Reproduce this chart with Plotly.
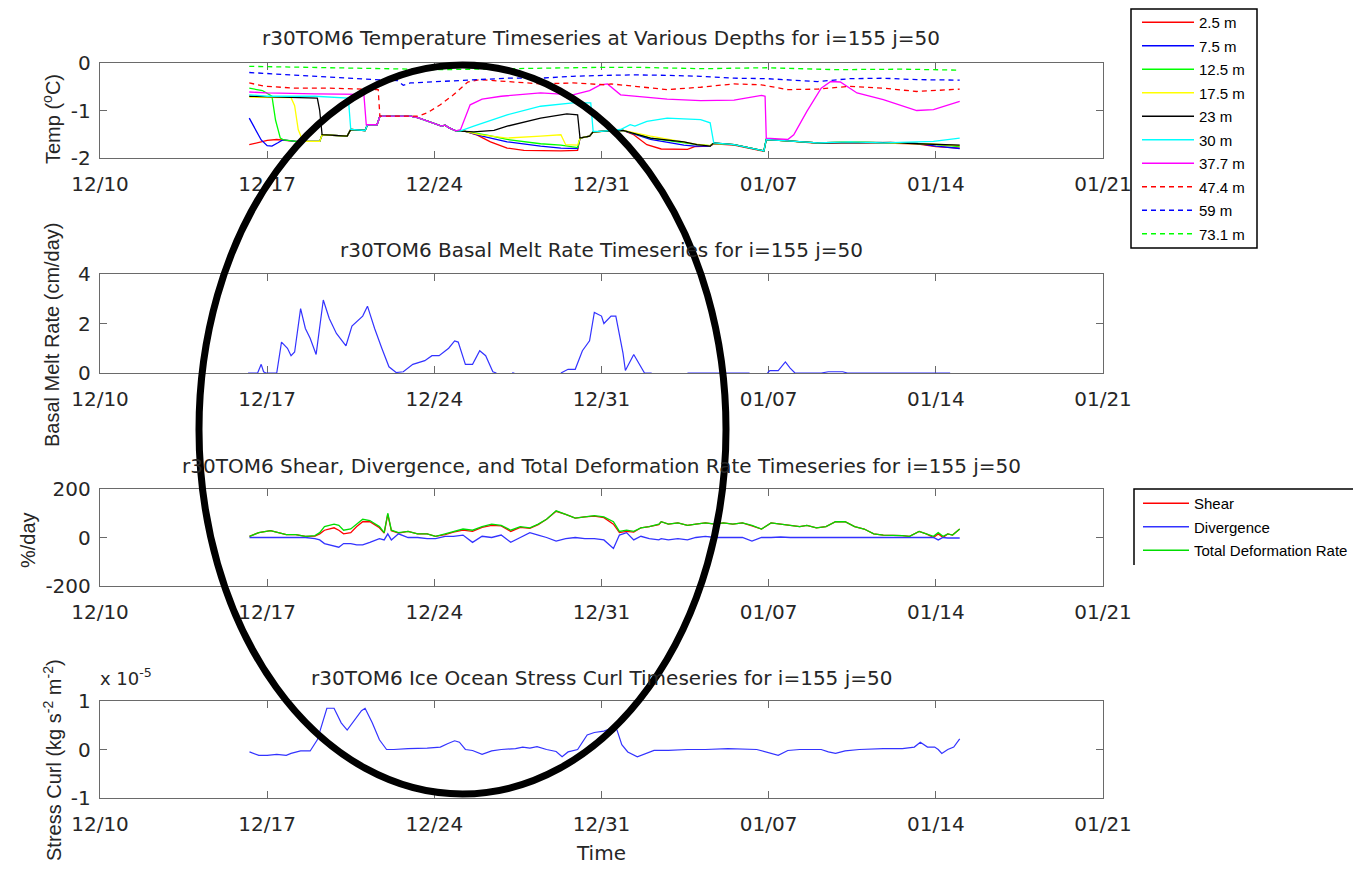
import pandas as pd
import plotly.graph_objects as go

# ---------------- data (days since 12/10) ----------------
BASE = pd.Timestamp("2015-12-10")

tick_days = [0, 7, 14, 21, 28, 35, 42]
tick_labels = ["12/10", "12/17", "12/24", "12/31", "01/07", "01/14", "01/21"]

depth_names = ["2.5 m", "7.5 m", "12.5 m", "17.5 m", "23 m", "30 m", "37.7 m", "47.4 m", "59 m", "73.1 m"]

t2_5_days = [6.25, 6.6, 7.0, 7.4, 7.7, 8.2, 9.2, 9.3, 10.35, 10.5, 11.1, 11.2, 11.6, 11.72, 13.0, 13.3, 13.6, 14.0, 14.3, 14.45, 14.6, 14.9, 15.3, 15.8, 16.35, 17.05, 17.75, 19.3, 20.0, 20.1, 20.5, 20.65, 21.0, 21.9, 22.35, 22.9, 23.5, 24.6, 24.9, 25.55, 25.7, 26.55, 27.8, 27.9, 28.8, 30.05, 31.4, 32.8, 34.2, 35.0, 36.0]
t2_5_vals = [-1.72, -1.68, -1.63, -1.61, -1.62, -1.65, -1.65, -1.51, -1.54, -1.4, -1.42, -1.3, -1.3, -1.12, -1.12, -1.15, -1.2, -1.27, -1.33, -1.31, -1.36, -1.43, -1.44, -1.52, -1.66, -1.79, -1.84, -1.85, -1.84, -1.58, -1.54, -1.45, -1.44, -1.42, -1.51, -1.72, -1.81, -1.82, -1.76, -1.75, -1.7, -1.73, -1.86, -1.61, -1.64, -1.69, -1.67, -1.69, -1.7, -1.76, -1.79]

t7_5_days = [6.25, 6.5, 6.75, 7.0, 7.2, 7.45, 7.65, 8.2, 9.2, 9.3, 10.35, 10.5, 11.1, 11.2, 11.6, 11.72, 13.0, 13.3, 13.6, 14.0, 14.3, 14.45, 14.6, 14.9, 15.3, 16.0, 17.05, 18.45, 19.3, 20.0, 20.1, 20.5, 20.65, 21.0, 21.9, 23.05, 24.45, 24.9, 25.55, 25.7, 26.55, 27.8, 27.9, 28.8, 30.05, 31.4, 32.8, 34.2, 35.0, 36.0]
t7_5_vals = [-1.16, -1.4, -1.62, -1.74, -1.75, -1.68, -1.62, -1.65, -1.65, -1.51, -1.54, -1.4, -1.42, -1.3, -1.3, -1.12, -1.12, -1.15, -1.2, -1.27, -1.33, -1.31, -1.36, -1.43, -1.44, -1.54, -1.66, -1.75, -1.79, -1.8, -1.58, -1.54, -1.45, -1.44, -1.42, -1.61, -1.73, -1.75, -1.75, -1.69, -1.72, -1.85, -1.61, -1.64, -1.68, -1.66, -1.68, -1.69, -1.75, -1.8]

t12_5_days = [6.25, 6.8, 7.2, 7.35, 7.55, 7.7, 8.2, 9.2, 9.3, 10.35, 10.5, 11.1, 11.2, 11.6, 11.72, 13.0, 13.3, 13.6, 14.0, 14.3, 14.45, 14.6, 14.9, 15.3, 16.2, 17.05, 18.45, 19.3, 20.0, 20.1, 20.5, 20.65, 21.0, 21.9, 23.05, 24.45, 25.0, 25.55, 25.7, 26.55, 27.8, 27.9, 28.8, 30.05, 31.4, 32.8, 34.2, 35.0, 36.0]
t12_5_vals = [-0.53, -0.58, -0.7, -1.2, -1.58, -1.62, -1.65, -1.65, -1.51, -1.54, -1.4, -1.42, -1.3, -1.3, -1.12, -1.12, -1.15, -1.2, -1.27, -1.33, -1.31, -1.36, -1.43, -1.44, -1.52, -1.61, -1.7, -1.73, -1.78, -1.58, -1.54, -1.45, -1.44, -1.42, -1.58, -1.68, -1.72, -1.74, -1.69, -1.72, -1.85, -1.61, -1.64, -1.68, -1.66, -1.68, -1.69, -1.72, -1.76]

t17_5_days = [6.25, 8.0, 8.15, 8.3, 8.5, 9.2, 9.3, 10.35, 10.5, 11.1, 11.2, 11.6, 11.72, 13.0, 13.3, 13.6, 14.0, 14.3, 14.45, 14.6, 14.9, 15.3, 15.9, 17.05, 18.45, 19.3, 19.5, 20.0, 20.1, 20.5, 20.65, 21.0, 21.9, 23.05, 24.45, 24.95, 25.55, 25.7, 26.55, 27.8, 27.9, 28.8, 30.05, 31.4, 32.8, 34.2, 35.0, 36.0]
t17_5_vals = [-0.72, -0.73, -0.9, -1.4, -1.65, -1.65, -1.51, -1.54, -1.4, -1.42, -1.3, -1.3, -1.12, -1.12, -1.15, -1.2, -1.27, -1.33, -1.31, -1.36, -1.43, -1.44, -1.51, -1.58, -1.54, -1.51, -1.72, -1.73, -1.58, -1.54, -1.45, -1.44, -1.42, -1.54, -1.66, -1.71, -1.74, -1.69, -1.72, -1.85, -1.61, -1.64, -1.68, -1.66, -1.68, -1.69, -1.71, -1.74]

t23_days = [6.25, 8.0, 9.1, 9.2, 9.3, 10.35, 10.5, 11.1, 11.2, 11.6, 11.72, 13.0, 13.3, 13.6, 14.0, 14.3, 14.45, 14.6, 14.9, 15.3, 15.65, 16.5, 17.05, 18.45, 19.55, 20.0, 20.1, 20.5, 20.65, 21.0, 21.9, 23.05, 24.45, 25.0, 25.55, 25.7, 26.55, 27.8, 27.9, 28.8, 30.05, 31.85, 33.1, 34.2, 35.0, 36.0]
t23_vals = [-0.7, -0.72, -0.74, -1.0, -1.51, -1.54, -1.4, -1.42, -1.3, -1.3, -1.12, -1.12, -1.15, -1.2, -1.27, -1.33, -1.31, -1.36, -1.43, -1.44, -1.45, -1.42, -1.33, -1.16, -1.07, -1.09, -1.58, -1.54, -1.45, -1.44, -1.42, -1.58, -1.66, -1.72, -1.75, -1.68, -1.72, -1.85, -1.61, -1.64, -1.68, -1.68, -1.67, -1.7, -1.71, -1.73]

t30_days = [6.25, 7.0, 9.0, 10.4, 10.5, 11.1, 11.2, 11.6, 11.72, 13.0, 13.3, 13.6, 14.0, 14.3, 14.45, 14.6, 14.9, 15.1, 15.65, 17.05, 18.45, 19.8, 20.55, 20.65, 21.0, 21.8, 22.2, 22.4, 22.9, 23.75, 25.15, 25.55, 25.7, 26.55, 27.8, 27.9, 28.8, 30.05, 31.4, 32.8, 34.2, 34.9, 36.0]
t30_vals = [-0.67, -0.7, -0.7, -0.74, -1.4, -1.42, -1.3, -1.3, -1.12, -1.12, -1.15, -1.2, -1.27, -1.33, -1.31, -1.36, -1.43, -1.43, -1.33, -1.09, -0.91, -0.84, -0.84, -1.44, -1.44, -1.4, -1.3, -1.33, -1.23, -1.16, -1.19, -1.26, -1.68, -1.72, -1.85, -1.61, -1.64, -1.68, -1.66, -1.68, -1.66, -1.65, -1.58]

t37_7_days = [6.25, 7.0, 9.0, 11.05, 11.15, 11.6, 11.72, 13.0, 13.3, 13.6, 14.0, 14.3, 14.45, 14.6, 14.9, 15.1, 15.5, 16.0, 16.8, 18.45, 19.8, 20.5, 20.95, 21.25, 21.8, 23.75, 25.15, 26.55, 27.7, 27.85, 27.9, 28.8, 29.05, 29.6, 30.2, 30.6, 31.0, 31.7, 32.8, 34.2, 34.9, 36.0]
t37_7_vals = [-0.61, -0.63, -0.65, -0.66, -1.3, -1.3, -1.12, -1.12, -1.15, -1.2, -1.27, -1.33, -1.31, -1.36, -1.43, -1.4, -0.88, -0.76, -0.7, -0.63, -0.67, -0.58, -0.46, -0.44, -0.67, -0.76, -0.79, -0.78, -0.68, -0.7, -1.58, -1.61, -1.51, -1.02, -0.53, -0.39, -0.4, -0.63, -0.77, -1.0, -0.98, -0.81]

t47_4_days = [6.25, 6.9, 8.2, 9.6, 11.0, 11.65, 11.72, 13.3, 13.7, 14.25, 14.8, 15.4, 15.9, 17.05, 18.45, 19.8, 21.2, 21.4, 22.35, 23.75, 25.15, 26.55, 27.7, 28.8, 30.05, 31.4, 32.8, 34.2, 36.0]
t47_4_vals = [-0.42, -0.49, -0.53, -0.53, -0.55, -0.56, -1.12, -1.12, -1.05, -0.88, -0.67, -0.4, -0.35, -0.39, -0.44, -0.42, -0.46, -0.44, -0.49, -0.56, -0.51, -0.44, -0.46, -0.56, -0.55, -0.49, -0.53, -0.6, -0.55]

t59_days = [6.25, 7.3, 8.7, 10.1, 11.5, 12.45, 12.7, 13.0, 14.25, 15.65, 17.05, 18.45, 19.8, 21.2, 22.35, 23.75, 25.15, 26.55, 27.95, 30.05, 31.4, 32.8, 34.2, 36.0]
t59_vals = [-0.2, -0.23, -0.28, -0.32, -0.35, -0.37, -0.47, -0.42, -0.39, -0.35, -0.32, -0.32, -0.28, -0.26, -0.25, -0.26, -0.28, -0.32, -0.33, -0.39, -0.33, -0.32, -0.35, -0.36]

t73_1_days = [6.25, 8.7, 11.5, 14.3, 17.1, 19.8, 21.2, 22.4, 25.2, 27.95, 30.8, 33.6, 36.0]
t73_1_vals = [-0.07, -0.09, -0.12, -0.14, -0.12, -0.09, -0.09, -0.09, -0.12, -0.1, -0.14, -0.13, -0.15]

melt_days = [6.2, 6.6, 6.75, 6.85, 6.95, 7.4, 7.6, 7.85, 8.0, 8.15, 8.4, 8.6, 8.8, 9.05, 9.35, 9.6, 9.9, 10.3, 10.55, 10.9, 11.0, 11.2, 11.5, 11.8, 12.1, 12.4, 12.7, 13.1, 13.6, 13.9, 14.2, 14.6, 14.85, 15.0, 15.3, 15.6, 15.9, 16.15, 16.45, 16.6, 16.7, 17.25, 17.35, 17.4, 19.3, 19.6, 19.9, 20.2, 20.5, 20.7, 21.0, 21.1, 21.4, 21.6, 21.9, 22.0, 22.35, 22.6, 22.8, 23.1, 23.2, 24.6, 27.2, 27.3, 27.95, 28.05, 28.4, 28.7, 28.9, 29.1, 30.2, 30.5, 31.1, 31.3, 35.6]
melt_vals = [0, 0, 0.35, 0.05, 0, 0, 1.25, 1.0, 0.7, 0.85, 2.6, 1.8, 1.4, 0.75, 2.95, 2.2, 1.6, 1.1, 1.9, 2.2, 2.3, 2.7, 1.8, 1.0, 0.25, 0.02, 0.05, 0.35, 0.5, 0.7, 0.7, 1.0, 1.3, 1.25, 0.35, 0.35, 0.9, 0.7, 0.05, 0, None, 0, 0, None, 0, 0.15, 0.15, 0.9, 1.3, 2.45, 2.3, 2.0, 2.3, 2.3, 0.8, 0.1, 0.75, 0.3, 0, 0, None, 0, 0, None, 0, 0.1, 0.1, 0.45, 0.2, 0, 0, 0.05, 0.05, 0, 0]

def_days = [6.26, 6.65, 7.14, 7.5, 7.8, 8.2, 8.6, 9.0, 9.2, 9.4, 9.8, 10.0, 10.2, 10.5, 10.75, 11.0, 11.3, 11.7, 11.9, 12.05, 12.2, 12.5, 12.9, 13.3, 13.7, 14.05, 14.45, 14.8, 15.2, 15.6, 16.0, 16.4, 16.8, 17.2, 17.6, 18.0, 18.35, 18.7, 19.1, 19.5, 19.9, 20.3, 20.7, 21.1, 21.5, 21.75, 22.05, 22.35, 22.65, 23.0, 23.4, 23.5, 23.8, 24.2, 24.6, 24.95, 25.35, 25.75, 26.1, 26.5, 26.9, 27.3, 27.7, 28.1, 28.5, 28.9, 29.3, 29.6, 30.0, 30.4, 30.8, 31.2, 31.6, 32.0, 32.4, 32.8, 33.2, 33.6, 33.9, 34.3, 34.6, 34.9, 35.1, 35.3, 35.5, 35.7, 36.0]
total_vals = [5, 20, 28, 18, 12, 12, 5, 8, 20, 45, 55, 50, 30, 35, 55, 75, 70, 45, 20, 100, 30, 20, 25, 15, 15, 5, 15, 25, 35, 30, 45, 55, 50, 30, 45, 40, 55, 75, 110, 95, 80, 85, 90, 85, 65, 25, 30, 25, 40, 45, 55, 65, 55, 60, 50, 55, 60, 55, 60, 55, 60, 50, 35, 60, 55, 50, 45, 50, 40, 45, 65, 65, 45, 35, 15, 10, 10, 8, 5, 25, 15, 5, 20, 5, 15, 10, 35]
shear_vals = [5, 20, 28, 18, 12, 12, 5, 6, 15, 30, 40, 30, 15, 20, 45, 65, 65, 40, 18, 95, 28, 18, 25, 15, 15, 5, 12, 22, 30, 25, 42, 50, 48, 25, 42, 38, 53, 75, 108, 95, 80, 85, 88, 82, 55, 20, 25, 22, 40, 45, 53, 65, 55, 60, 50, 55, 60, 55, 60, 55, 60, 48, 35, 60, 55, 50, 45, 50, 40, 45, 65, 65, 45, 35, 15, 10, 10, 8, 5, 25, 15, 0, 15, 0, 15, 10, 35]
div_vals = [0, 0, -2, 0, 0, -2, 0, -5, -10, -25, -35, -40, -25, -25, -30, -30, -20, -5, -10, 15, -10, 15, 0, 0, -5, -5, 5, 5, 10, -20, 5, 0, 10, -20, 0, 20, 10, 0, -15, -5, 0, -5, -5, -10, -45, 10, 20, -10, 5, -5, -10, -5, -10, -5, -10, 0, 5, 0, 0, 0, 0, -15, 0, 0, 2, 0, 0, 2, 0, 0, 2, 0, 0, 0, 0, 0, 0, 0, 0, 0, 2, 0, -10, 0, -2, -2, -2]

curl_days = [6.26, 6.65, 7.0, 7.4, 7.8, 8.0, 8.4, 8.8, 9.1, 9.3, 9.5, 9.8, 10.1, 10.35, 10.65, 10.95, 11.1, 11.4, 11.7, 12.0, 12.3, 12.9, 13.7, 14.25, 14.55, 14.85, 15.05, 15.3, 15.6, 16.0, 16.4, 16.8, 17.4, 17.7, 18.0, 18.3, 18.7, 19.1, 19.35, 19.6, 20.0, 20.4, 20.7, 21.1, 21.5, 21.65, 21.85, 22.1, 22.5, 22.8, 23.2, 23.8, 24.6, 25.35, 26.3, 27.5, 27.9, 28.4, 28.8, 29.3, 30.2, 30.5, 30.8, 31.2, 31.8, 32.8, 33.6, 34.1, 34.35, 34.65, 34.95, 35.1, 35.25, 35.5, 35.75, 36.0]
curl_e5_vals = [-0.05, -0.12, -0.12, -0.1, -0.12, -0.08, -0.03, -0.03, 0.2, 0.5, 0.85, 0.85, 0.55, 0.4, 0.6, 0.8, 0.85, 0.55, 0.2, 0.0, 0.0, 0.02, 0.03, 0.05, 0.12, 0.18, 0.15, 0.0, -0.02, -0.1, -0.03, 0.0, 0.02, 0.05, 0.03, 0.06, 0.0, -0.04, -0.15, -0.05, 0.0, 0.3, 0.35, 0.38, 0.45, 0.4, 0.1, -0.05, -0.15, -0.1, -0.02, -0.02, 0.0, 0.0, 0.02, 0.0, -0.05, -0.12, -0.02, 0.0, 0.0, -0.05, -0.08, -0.03, 0.0, 0.02, 0.02, 0.05, 0.15, 0.05, 0.05, 0.0, -0.08, 0.0, 0.05, 0.22]


def to_dates(days):
    return [BASE + pd.Timedelta(days=d) for d in days]


# ---------------- layout helpers (page pixel coords; page body has an 8px margin) ----------------
OFF = 8
W, H = 1361 - OFF, 872 - OFF


def px(x):
    return (x - OFF) / W


def py(y):
    return 1 - (y - OFF) / H


X_LEFT, X_RIGHT = 100, 1103
PANELS = [(63, 158), (274, 373), (489, 586), (701, 798)]
TXT = "#262626"
AXC = "#6a6a6a"
HFONT = "DejaVu Sans"
VFONT = "Liberation Sans, Arial, sans-serif"
LFONT = "Liberation Sans, Arial, sans-serif"

fig = go.Figure()

temp_series = [
    (t2_5_days, t2_5_vals, "#ff0000", "solid"),
    (t7_5_days, t7_5_vals, "#0000ff", "solid"),
    (t12_5_days, t12_5_vals, "#00ff00", "solid"),
    (t17_5_days, t17_5_vals, "#ffff00", "solid"),
    (t23_days, t23_vals, "#000000", "solid"),
    (t30_days, t30_vals, "#00ffff", "solid"),
    (t37_7_days, t37_7_vals, "#ff00ff", "solid"),
    (t47_4_days, t47_4_vals, "#ff0000", "5px,4px"),
    (t59_days, t59_vals, "#0000ff", "5px,4px"),
    (t73_1_days, t73_1_vals, "#00ff00", "5px,4px"),
]
for name, (d, v, c, dash) in zip(depth_names, temp_series):
    fig.add_trace(go.Scatter(x=to_dates(d), y=v, mode="lines", name=name, legendgroup=name,
                             line=dict(color=c, width=1.3, dash=dash),
                             xaxis="x", yaxis="y", legend="legend"))

fig.add_trace(go.Scatter(x=to_dates(melt_days), y=melt_vals, mode="lines",
                         line=dict(color="#3333ff", width=1.2), showlegend=False,
                         connectgaps=False, xaxis="x2", yaxis="y2"))

def_series = [("Shear", shear_vals, "#ff0000"), ("Divergence", div_vals, "#3333ff"),
              ("Total Deformation Rate", total_vals, "#00dd00")]
for name, vals, c in def_series:
    fig.add_trace(go.Scatter(x=to_dates(def_days), y=vals, mode="lines", name=name, legendgroup=name,
                             line=dict(color=c, width=1.3), xaxis="x3", yaxis="y3", legend="legend2"))

fig.add_trace(go.Scatter(x=to_dates(curl_days), y=curl_e5_vals, mode="lines",
                         line=dict(color="#3333ff", width=1.2), showlegend=False,
                         xaxis="x4", yaxis="y4"))

x_range = [BASE, BASE + pd.Timedelta(days=42)]
y_specs = [
    ([-2, 0], [-2, -1, 0], ["-2", "-1", "0"]),
    ([0, 4], [0, 2, 4], ["0", "2", "4"]),
    ([-200, 200], [-200, 0, 200], ["-200", "0", "200"]),
    ([-1, 1], [-1, 0, 1], ["-1", "0", "1"]),
]

axes = {}
for i, ((top, bot), (yr, yv, yt)) in enumerate(zip(PANELS, y_specs), start=1):
    sfx = "" if i == 1 else str(i)
    common = dict(ticks="inside", ticklen=7, tickcolor=AXC, tickwidth=1.2,
                  showline=True, linecolor=AXC, linewidth=1.4, mirror="allticks",
                  showgrid=False, zeroline=False, layer="below traces", automargin=False,
                  tickfont=dict(family=HFONT, size=20, color=TXT))
    axes["xaxis" + sfx] = dict(
        domain=[px(X_LEFT), px(X_RIGHT)], anchor="y" + sfx, range=x_range, type="date",
        tickvals=to_dates(tick_days), ticktext=tick_labels, ticklabelstandoff=8, **common)
    axes["yaxis" + sfx] = dict(
        domain=[py(bot), py(top)], anchor="x" + sfx, range=yr,
        tickvals=yv, ticktext=yt, ticklabelstandoff=4, **common)

titles = [
    ("r30TOM6 Temperature Timeseries at Various Depths for i=155 j=50", 38),
    ("r30TOM6 Basal Melt Rate Timeseries for i=155 j=50", 250),
    ("r30TOM6 Shear, Divergence, and Total Deformation Rate Timeseries for i=155 j=50", 466),
    ("r30TOM6 Ice Ocean Stress Curl Timeseries for i=155 j=50", 678),
]
ytitles = [
    ("Temp (<sup>o</sup>C)", 52, 119),
    ("Basal Melt Rate (cm/day)", 52, 335),
    ("%/day", 28, 540),
    ("Stress Curl (kg s<sup>-2</sup> m<sup>-2</sup>)", 52, 760),
]

annotations = []
for text, yc in titles:
    annotations.append(dict(text=text, x=px(601), y=py(yc), xref="paper", yref="paper",
                            xanchor="center", yanchor="middle", showarrow=False,
                            font=dict(family=HFONT, size=20, color=TXT)))
for text, xc, yc in ytitles:
    annotations.append(dict(text=text, x=px(xc), y=py(yc), xref="paper", yref="paper",
                            xanchor="center", yanchor="middle", showarrow=False, textangle=-90,
                            font=dict(family=VFONT, size=20, color=TXT)))
annotations.append(dict(text="x 10<sup>-5</sup>", x=px(98), y=py(677), xref="paper", yref="paper",
                        xanchor="left", yanchor="middle", showarrow=False,
                        font=dict(family=HFONT, size=18, color=TXT)))
annotations.append(dict(text="Time", x=px(601), y=py(853), xref="paper", yref="paper",
                        xanchor="center", yanchor="middle", showarrow=False,
                        font=dict(family=HFONT, size=20, color=TXT)))

shapes = [
    # legend boxes
    dict(type="rect", xref="paper", yref="paper", x0=px(1131), x1=px(1257), y0=py(248), y1=py(9),
         line=dict(color="#000000", width=1.5)),
    dict(type="path", xref="paper", yref="paper",
         path=f"M {px(1134)},{py(565)} L {px(1134)},{py(489)} L {px(1361)},{py(489)}",
         line=dict(color="#000000", width=1.5)),
    # hand-drawn ellipse
    dict(type="circle", xref="paper", yref="paper",
         x0=px(462.5 - 263.5), x1=px(462.5 + 263.5), y0=py(429.5 + 364.5), y1=py(429.5 - 364.5),
         line=dict(color="#000000", width=7), layer="above"),
]

legend_common = dict(bgcolor="rgba(0,0,0,0)", borderwidth=0, xanchor="left", yanchor="top",
                     traceorder="grouped", tracegroupgap=1,
                     font=dict(family=LFONT, size=15, color="#000000"))

fig.update_layout(
    template="none",
    width=W, height=H,
    margin=dict(l=0, r=0, t=0, b=0, autoexpand=False),
    paper_bgcolor="white", plot_bgcolor="white",
    annotations=annotations, shapes=shapes,
    legend=dict(x=px(1137), y=py(6), itemwidth=52, **legend_common),
    legend2=dict(x=px(1138), y=py(487), itemwidth=46, **legend_common),
    **axes,
)

fig.write_html("out.html")
